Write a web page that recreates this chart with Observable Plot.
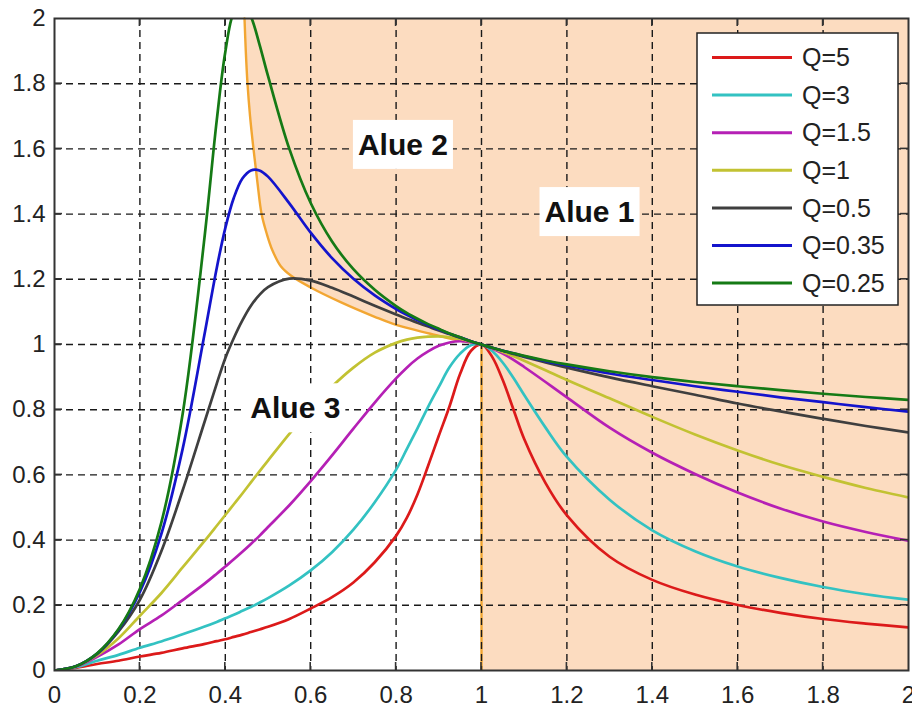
<!DOCTYPE html>
<html><head><meta charset="utf-8">
<script src="https://cdn.jsdelivr.net/npm/d3@7"></script>
<script src="https://cdn.jsdelivr.net/npm/@observablehq/plot@0.6"></script>
<style>
html,body{margin:0;padding:0;background:#fff;}
#chart{position:relative;width:912px;height:707px;overflow:hidden;}
</style></head><body><div id="chart"></div>
<script>
// normalized frequency (x)
const fn = [0, 0.05, 0.1, 0.15, 0.2, 0.25, 0.3, 0.35, 0.38, 0.4, 0.42, 0.44, 0.46, 0.48, 0.5, 0.55, 0.6, 0.65, 0.7, 0.75, 0.8, 0.825, 0.85, 0.875, 0.9, 0.925, 0.95, 0.975, 1, 1.025, 1.05, 1.075, 1.1, 1.15, 1.2, 1.3, 1.4, 1.5, 1.6, 1.7, 1.8, 1.9, 2];
// gain curves
const q5   = [0, 0.008, 0.02, 0.03, 0.043, 0.054, 0.068, 0.081, 0.09, 0.096, 0.103, 0.11, 0.118, 0.126, 0.134, 0.158, 0.19, 0.225, 0.27, 0.332, 0.413, 0.468, 0.54, 0.628, 0.72, 0.81, 0.91, 0.98, 1, 0.962, 0.89, 0.8, 0.71, 0.575, 0.476, 0.349, 0.278, 0.233, 0.201, 0.177, 0.158, 0.144, 0.132];
const q3   = [0, 0.01, 0.03, 0.048, 0.07, 0.089, 0.111, 0.134, 0.149, 0.16, 0.171, 0.183, 0.195, 0.208, 0.222, 0.261, 0.307, 0.363, 0.432, 0.516, 0.616, 0.679, 0.743, 0.809, 0.87, 0.93, 0.972, 0.998, 1, 0.98, 0.944, 0.897, 0.845, 0.745, 0.655, 0.524, 0.43, 0.366, 0.319, 0.284, 0.256, 0.234, 0.217];
const q15  = [0, 0.012, 0.042, 0.08, 0.127, 0.168, 0.216, 0.265, 0.297, 0.319, 0.341, 0.364, 0.388, 0.413, 0.44, 0.507, 0.581, 0.66, 0.742, 0.822, 0.896, 0.929, 0.957, 0.979, 0.996, 1.006, 1.01, 1.007, 1, 0.988, 0.972, 0.953, 0.931, 0.885, 0.838, 0.745, 0.668, 0.603, 0.546, 0.497, 0.457, 0.425, 0.398];
const q1   = [0, 0.012, 0.047, 0.099, 0.168, 0.237, 0.316, 0.395, 0.444, 0.477, 0.51, 0.543, 0.577, 0.611, 0.644, 0.726, 0.802, 0.871, 0.929, 0.975, 1.005, 1.015, 1.021, 1.024, 1.025, 1.022, 1.017, 1.009, 1, 0.989, 0.977, 0.964, 0.95, 0.921, 0.891, 0.835, 0.778, 0.724, 0.675, 0.631, 0.594, 0.56, 0.531];
const q05  = [0, 0.013, 0.051, 0.12, 0.217, 0.365, 0.552, 0.757, 0.88, 0.958, 1.02, 1.074, 1.119, 1.152, 1.176, 1.202, 1.196, 1.174, 1.147, 1.119, 1.092, 1.079, 1.067, 1.055, 1.043, 1.032, 1.021, 1.01, 1, 0.99, 0.981, 0.971, 0.962, 0.945, 0.929, 0.899, 0.872, 0.846, 0.819, 0.795, 0.772, 0.75, 0.73];
const q035 = [0, 0.013, 0.052, 0.125, 0.241, 0.418, 0.679, 1.022, 1.235, 1.357, 1.45, 1.509, 1.534, 1.534, 1.515, 1.433, 1.343, 1.265, 1.202, 1.151, 1.109, 1.091, 1.075, 1.06, 1.046, 1.033, 1.022, 1.01, 1, 0.99, 0.981, 0.973, 0.964, 0.949, 0.936, 0.911, 0.891, 0.872, 0.855, 0.838, 0.823, 0.808, 0.794];
const q025 = [0, 0.013, 0.053, 0.127, 0.251, 0.453, 0.786, 1.313, 1.688, 1.897, 2.02, 2.05, 2.006, 1.921, 1.824, 1.6, 1.434, 1.316, 1.231, 1.168, 1.118, 1.097, 1.079, 1.0625, 1.048, 1.034, 1.022, 1.01, 1, 0.99, 0.981, 0.973, 0.965, 0.951, 0.939, 0.918, 0.9, 0.885, 0.872, 0.86, 0.849, 0.839, 0.83];
const seriesNames  = ["Q=5", "Q=3", "Q=1.5", "Q=1", "Q=0.5", "Q=0.35", "Q=0.25"];
const seriesValues = [q5, q3, q15, q1, q05, q035, q025];
const seriesColors = ["#dc1a1a", "#33c2c2", "#b520b5", "#c2c232", "#3f3f3f", "#1414cc", "#157a15"];
// region boundary (orange curve)
const boundaryX = [0.445, 0.448, 0.452, 0.458, 0.466, 0.475, 0.485, 0.497, 0.51, 0.53, 0.555, 0.6, 0.67, 0.75, 0.8, 0.88, 0.94, 1.0];
const boundaryY = [2.0, 1.9, 1.8, 1.7, 1.6, 1.5, 1.4, 1.34, 1.29, 1.24, 1.21, 1.175, 1.13, 1.085, 1.06, 1.033, 1.014, 1.0];
// ticks
const xTicks = [0, 0.2, 0.4, 0.6, 0.8, 1, 1.2, 1.4, 1.6, 1.8, 2];
const yTicks = [0, 0.2, 0.4, 0.6, 0.8, 1, 1.2, 1.4, 1.6, 1.8, 2];
// region labels
const regionText = ["Alue 2", "Alue 1", "Alue 3"];
const regionX = [0.816, 1.253, 0.564];
const regionY = [1.611, 1.405, 0.803];

(function () {
const xDomain = [0, 2], yDomain = [0, 2];
const rows = [];
seriesValues.forEach((vals, i) => vals.forEach((v, j) => rows.push({x: fn[j], y: v, q: seriesNames[i]})));
const boundary = boundaryX.map((x, i) => ({x, y: boundaryY[i]}));
const fillRows = boundary.concat([{x: boundaryX[boundaryX.length - 1], y: yDomain[0]}]);
const labels = regionText.map((t, i) => ({t, x: regionX[i], y: regionY[i]}));
const lastPt = boundary[boundary.length - 1];
const fmt = d => String(d);

const font = "'Liberation Sans', Arial, Helvetica, sans-serif";
const plot = Plot.plot({
  width: 912, height: 707,
  marginLeft: 54, marginRight: 4, marginTop: 18, marginBottom: 37,
  x: {domain: xDomain},
  y: {domain: yDomain},
  color: {domain: seriesNames, range: seriesColors},
  style: {fontFamily: font, fontSize: "24px", background: "white", color: "#222"},
  marks: [
    Plot.areaX(fillRows, {y: "y", x1: "x", x2: () => xDomain[1], fill: "#fcdcc0", curve: "linear"}),
    Plot.line(boundary, {x: "x", y: "y", stroke: "#f2a632", strokeWidth: 2.4, curve: "catmull-rom"}),
    Plot.ruleX([lastPt], {x: "x", y1: yDomain[0], y2: "y", stroke: "#f2a632", strokeWidth: 2.4}),
    Plot.gridX(xTicks.slice(1, -1), {stroke: "#1a1a1a", strokeOpacity: 1, strokeWidth: 1.4, strokeDasharray: "7,5"}),
    Plot.gridY(yTicks.slice(1, -1), {stroke: "#1a1a1a", strokeOpacity: 1, strokeWidth: 1.4, strokeDasharray: "7,5"}),
    Plot.line(rows, {x: "x", y: "y", z: "q", stroke: "q", strokeWidth: 2.7, curve: "catmull-rom", clip: true}),
    Plot.axisX(xTicks, {tickSize: 0, tickPadding: 15, fontSize: 24, fill: "#222", label: null, tickFormat: fmt}),
    Plot.axisY(yTicks, {tickSize: 0, tickPadding: 9, fontSize: 24, fill: "#222", label: null, tickFormat: fmt}),
    Plot.frame({stroke: "#333", strokeWidth: 2}),
    Plot.text(labels, {x: "x", y: "y", text: "t", fontSize: 30, fontWeight: "bold", fill: "#111"})
  ]
});
document.getElementById("chart").appendChild(plot);

const svg = d3.select(plot);
const sx = plot.scale("x"), sy = plot.scale("y");
const pxL = sx.apply(xDomain[0]), pxR = sx.apply(xDomain[1]);
const pxB = sy.apply(yDomain[0]), pxT = sy.apply(yDomain[1]);
const tl = 8;
const tg = svg.append("g").attr("stroke", "#333").attr("stroke-width", 1.6);
xTicks.slice(1, -1).forEach(t => {
  const p = sx.apply(t);
  tg.append("line").attr("x1", p).attr("x2", p).attr("y1", pxB).attr("y2", pxB - tl);
  tg.append("line").attr("x1", p).attr("x2", p).attr("y1", pxT).attr("y2", pxT + tl);
});
yTicks.slice(1, -1).forEach(t => {
  const p = sy.apply(t);
  tg.append("line").attr("y1", p).attr("y2", p).attr("x1", pxL).attr("x2", pxL + tl);
  tg.append("line").attr("y1", p).attr("y2", p).attr("x1", pxR).attr("x2", pxR - tl);
});

// legend
const lg = svg.append("g").attr("text-anchor", "start");
lg.append("rect").attr("x", 697).attr("y", 33).attr("width", 201).attr("height", 272)
  .attr("fill", "white").attr("stroke", "#222").attr("stroke-width", 1.5);
seriesNames.forEach((n, i) => {
  const cy = 57.5 + i * 37.6;
  lg.append("line").attr("x1", 712).attr("x2", 792).attr("y1", cy).attr("y2", cy)
    .attr("stroke", seriesColors[i]).attr("stroke-width", 3);
  lg.append("text").attr("x", 802).attr("y", cy).attr("dy", "0.35em").attr("text-anchor", "start")
    .attr("font-size", 25).attr("font-family", font).attr("fill", "#222").text(n);
});

// white boxes behind region labels
svg.selectAll('g[aria-label="text"] text').each(function() {
  const b = this.getBBox();
  const r = document.createElementNS("http://www.w3.org/2000/svg", "rect");
  r.setAttribute("x", b.x - 5); r.setAttribute("y", b.y - 8);
  r.setAttribute("width", b.width + 10); r.setAttribute("height", b.height + 16);
  r.setAttribute("fill", "white");
  const tr = this.getAttribute("transform");
  if (tr) r.setAttribute("transform", tr);
  this.parentNode.insertBefore(r, this);
});
})();
</script></body></html>
